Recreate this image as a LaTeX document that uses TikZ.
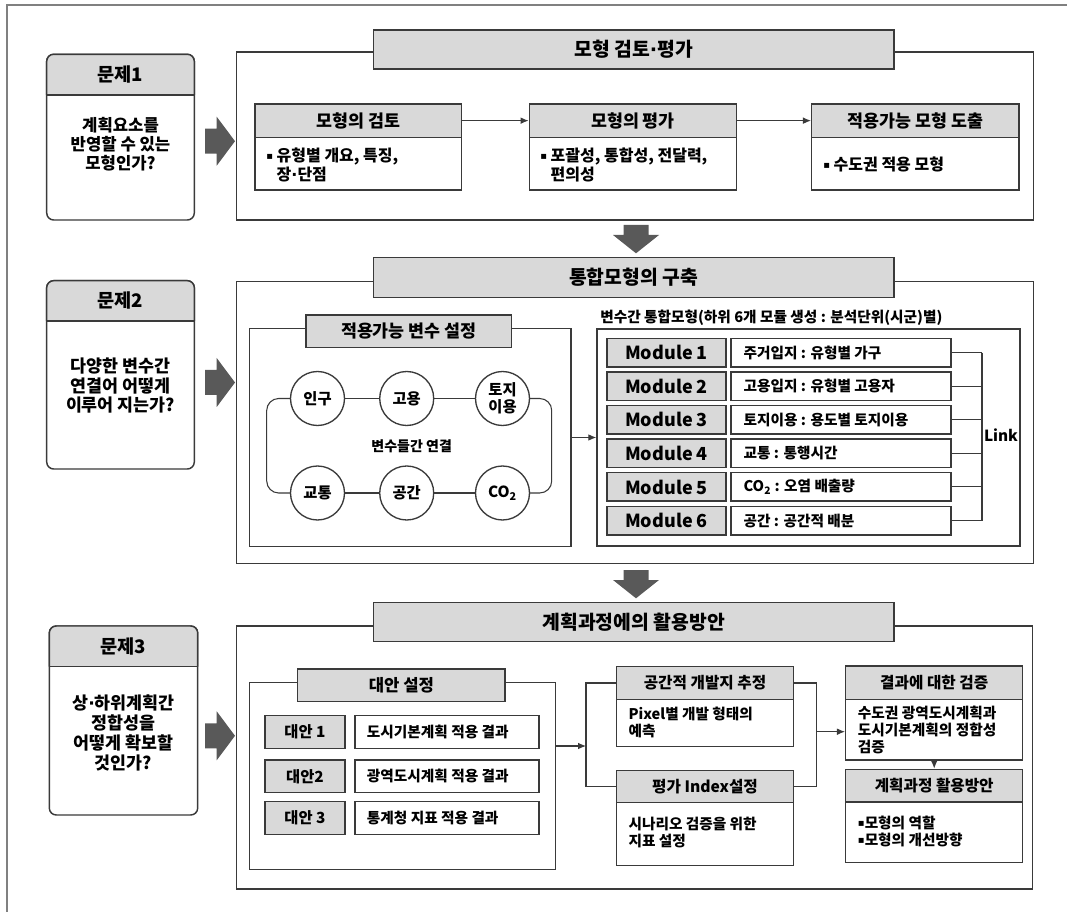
\documentclass[tikz,border=0pt]{standalone}
\usepackage{fontspec}
\setmainfont{Noto Sans CJK KR}
\newfontfamily\dv{DejaVu Sans}
\usetikzlibrary{arrows.meta}
\definecolor{lc}{HTML}{3A3A3A}
\definecolor{hg}{HTML}{D9D9D9}
\definecolor{ag}{HTML}{595959}
\definecolor{og}{HTML}{808080}
\newcommand\bul{{\dv\fontsize{7.5pt}{8pt}\selectfont\raisebox{1.2pt}{▪}}}
\newcommand\md{{\dv ·}}
\newcommand\Bx[7]{\node[#2, minimum width={(#5-#3)*0.75pt}, minimum height={(#6-#4)*0.75pt}] (#1) at ({(#3+#5)/2},{(#4+#6)/2}) {#7};}
\newcommand\RA[1]{\fill[ag] (205,{#1-12.5}) -- (216.7,{#1-12.5}) -- (216.7,{#1-24.5}) -- (235,#1) -- (216.7,{#1+24.5}) -- (216.7,{#1+12.5}) -- (205,{#1+12.5}) -- cycle;}
\newcommand\DA[1]{\fill[ag] (623.5,#1) -- (648.5,#1) -- (648.5,{#1+10}) -- (659,{#1+10}) -- (636,{#1+28.3}) -- (613,{#1+10}) -- (623.5,{#1+10}) -- cycle;}
\begin{document}
\begin{tikzpicture}[x=0.75pt,y=-0.75pt,
  ln/.style={draw=lc, line width=1.1pt},
  cn/.style={draw=lc, line width=0.8pt},
  arr/.style={cn, -{Latex[length=6pt,width=5pt]}},
  bx/.style={ln, inner sep=0pt, fill=white},
  hd/.style={bx, fill=hg},
  ttl/.style={hd, font=\bfseries\fontsize{14.5pt}{17pt}\selectfont},
  hda/.style={hd, font=\bfseries\fontsize{13pt}{15pt}\selectfont},
  hdb/.style={hd, font=\bfseries\fontsize{11.75pt}{14pt}\selectfont},
  mod/.style={hd, font=\bfseries\fontsize{13.5pt}{16pt}\selectfont},
  alt/.style={hd, font=\bfseries\fontsize{11.5pt}{14pt}\selectfont},
  pbh/.style={inner sep=0pt, font=\bfseries\fontsize{14pt}{16pt}\selectfont},
  pbt/.style={inner sep=0pt, align=center, font=\bfseries\fontsize{13pt}{14.6pt}\selectfont},
  bta/.style={anchor=west, align=left, inner sep=0pt, font=\bfseries\fontsize{12pt}{14.25pt}\selectfont},
  btb/.style={anchor=west, align=left, inner sep=0pt, font=\bfseries\fontsize{11pt}{12.75pt}\selectfont},
  circ/.style={circle, draw=lc, line width=1pt, fill=white, minimum size=40.5pt, inner sep=0pt, align=center, font=\bfseries\fontsize{11.5pt}{13pt}\selectfont},
]
\useasboundingbox (0,0) rectangle (1067,912);
% outer frame
\draw[og, line width=0.8pt] (7,912) -- (7,5) -- (1067,5);

% ---------- problem boxes ----------
\Bx{P1}{bx, rounded corners=5.25pt}{46.7}{54.3}{194.3}{220}{}
\path[fill=hg, draw=lc, line width=1.1pt, rounded corners=5.25pt] (46.7,95) -- (46.7,54.3) -- (194.3,54.3) -- (194.3,95);
\draw[ln] (46.7,95) -- (194.3,95);
\node[pbh] (P1h) at (120.5,75) {문제1};
\node[pbt, font=\bfseries\fontsize{12.5pt}{14.25pt}\selectfont] (P1t) at (120.5,144.5) {계획요소를\\반영할 수 있는\\모형인가?};

\Bx{P2}{bx, rounded corners=5.25pt}{46.7}{280.7}{194.3}{469}{}
\path[fill=hg, draw=lc, line width=1.1pt, rounded corners=5.25pt] (46.7,321) -- (46.7,280.7) -- (194.3,280.7) -- (194.3,321);
\draw[ln] (46.7,321) -- (194.3,321);
\node[pbh] (P2h) at (120.5,301) {문제2};
\node[pbt] (P2t) at (120.5,385.7) {다양한 변수간\\연결어 어떻게\\이루어 지는가?};

\Bx{P3}{bx, rounded corners=5.25pt}{49.3}{626}{197.7}{815}{}
\path[fill=hg, draw=lc, line width=1.1pt, rounded corners=5.25pt] (49.3,666.7) -- (49.3,626) -- (197.7,626) -- (197.7,666.7);
\draw[ln] (49.3,666.7) -- (197.7,666.7);
\node[pbh] (P3h) at (123.5,646.5) {문제3};
\node[pbt, font=\bfseries\fontsize{13pt}{15pt}\selectfont] (P3t) at (123.5,733) {상\md 하위계획간\\정합성을\\어떻게 확보할\\것인가?};

% big arrows
\RA{141.2}
\RA{382.5}
\RA{735.8}
\DA{225}
\DA{570}

% ---------- section 1 ----------
\Bx{F1}{bx}{236.7}{52}{1033.3}{220}{}
\Bx{T1}{ttl}{373.3}{30}{894}{69}{모형 검토\md 평가}
\Bx{Ah}{hda}{255}{104}{461.7}{137.3}{모형의 검토}
\Bx{Ab}{bx}{255}{137.3}{461.7}{190}{}
\node[bta] (At) at (266,164.5) {\bul{} 유형별 개요, 특징,\\\hphantom{\bul{} }장\md 단점};
\Bx{Bh}{hda}{529.3}{104}{736.7}{137.3}{모형의 평가}
\Bx{Bb}{bx}{529.3}{137.3}{736.7}{190}{}
\node[bta] (Bt) at (540,164.5) {\bul{} 포괄성, 통합성, 전달력,\\\hphantom{\bul{} }편의성};
\Bx{Ch}{hda}{811.7}{104}{1019}{137.3}{적용가능 모형 도출}
\Bx{Cb}{bx}{811.7}{137.3}{1019}{190}{}
\node[bta] (Ct) at (823,164.5) {\bul{} 수도권 적용 모형};
\draw[arr] (Ah.east) -- (Bh.west);
\draw[arr] (Bh.east) -- (Ch.west);

% ---------- section 2 ----------
\Bx{F2}{bx}{236.7}{281.7}{1033.3}{563.3}{}
\Bx{T2}{ttl}{373.3}{257.3}{894}{297.7}{통합모형의 구축}
\Bx{L}{bx}{249.3}{328.3}{571}{546.7}{}
\Bx{LT}{hda}{306}{315}{511.7}{347.3}{적용가능 변수 설정}
\node[circ] (c1) at (317.5,398.5) {인구};
\node[circ] (c2) at (406.7,398.5) {고용};
\node[circ] (c3) at (502.5,398.5) {토지\\이용};
\node[circ] (c4) at (317.5,493) {교통};
\node[circ] (c5) at (406.7,493) {공간};
\node[circ] (c6) at (502.5,493) {CO\textsubscript{2}};
\draw[cn] (c1) -- (c2);
\draw[cn] (c2) -- (c3);
\draw[cn] (c4) -- (c5);
\draw[cn] (c5) -- (c6);
\draw[cn, rounded corners=9pt] (c1.west) -- (266.7,398.5) -- (266.7,493) -- (c4.west);
\draw[cn, rounded corners=9pt] (c3.east) -- (551.7,398.5) -- (551.7,493) -- (c6.east);
\node[inner sep=0pt, font=\bfseries\fontsize{10.5pt}{12pt}\selectfont] (lk) at (411.7,446.5) {변수들간 연결};

\node[anchor=west, inner sep=0pt, font=\bfseries\fontsize{11pt}{13pt}\selectfont] (RL) at (600,318) {변수간 통합모형(하위 6개 모듈 생성 : 분석단위(시군)별)};
\Bx{RF}{bx}{597}{329}{1020}{546}{}
\foreach \i/\mm/\dd in {1/Module 1/{주거입지 : 유형별 가구},2/Module 2/{고용입지 : 유형별 고용자},3/Module 3/{토지이용 : 용도별 토지이용},4/Module 4/{교통 : 통행시간},5/Module 5/{CO\textsubscript{2} : 오염 배출량},6/Module 6/{공간 : 공간적 배분}} {
  \pgfmathsetmacro\yt{338.3+(\i-1)*33.6}
  \pgfmathsetmacro\yb{\yt+28.5}
  \pgfmathsetmacro\yc{\yt+14.25}
  \Bx{M\i}{mod}{607}{\yt}{726}{\yb}{\mm}
  \Bx{D\i}{bx}{731}{\yt}{951}{\yb}{}
  \node[btb] (DT\i) at (743.3,\yc) {\dd};
  \coordinate (K\i) at (982,\yc);
  \draw[cn] (D\i.east) -- (K\i);
}
\draw[cn] (K1) -- (K6);
\node[inner sep=0pt, font=\bfseries\fontsize{11.5pt}{13pt}\selectfont] (LK) at (1001,435) {Link};
\draw[arr] (L.east) -- (RF.west);

% ---------- section 3 ----------
\Bx{F3}{bx}{236.7}{626}{1032.7}{889}{}
\Bx{T3}{ttl}{373.3}{602.3}{894}{641.7}{계획과정에의 활용방안}
\Bx{Dp}{bx}{249.3}{682.3}{555.7}{869.3}{}
\Bx{DpT}{hd, font=\bfseries\fontsize{12.5pt}{15pt}\selectfont}{297.7}{669}{505}{701.7}{대안 설정}
\Bx{A1}{alt}{265}{715.7}{345}{748.3}{대안 1}
\Bx{W1}{bx}{355}{715.7}{539}{748.3}{}
\node[btb] (WT1) at (366.7,732) {도시기본계획 적용 결과};
\Bx{A2}{alt}{265}{760}{345}{792.7}{대안2}
\Bx{W2}{bx}{355}{760}{539}{792.7}{}
\node[btb] (WT2) at (366.7,776.3) {광역도시계획 적용 결과};
\Bx{A3}{alt}{265}{801.7}{345}{834.3}{대안 3}
\Bx{W3}{bx}{355}{801.7}{539}{834.3}{}
\node[btb] (WT3) at (366.7,818) {통계청 지표 적용 결과};

\Bx{Sh}{hdb}{616.7}{666.7}{793.3}{699.3}{공간적 개발지 추정}
\Bx{Sb}{bx}{616.7}{699.3}{793.3}{746.7}{}
\node[btb] (St) at (628.3,722.5) {Pixel별 개발 형태의\\예측};
\Bx{Eh}{hdb}{616.7}{770.7}{793.3}{802.7}{평가 Index설정}
\Bx{Eb}{bx}{616.7}{802.7}{793.3}{865.7}{}
\node[btb] (Et) at (628.3,832.5) {시나리오 검증을 위한\\지표 설정};

\Bx{Rh}{hdb}{845.7}{666}{1022.7}{699.3}{결과에 대한 검증}
\Bx{Rb}{bx}{845.7}{699.3}{1022.7}{760}{}
\node[btb] (Rt) at (857.7,729.7) {수도권 광역도시계획과\\도시기본계획의 정합성\\검증};
\Bx{Qh}{hdb}{845.7}{769.3}{1022.7}{802}{계획과정 활용방안}
\Bx{Qb}{bx}{845.7}{802}{1022.7}{862.7}{}
\node[btb] (Qt) at (857.7,831.5) {\bul{}모형의 역할\\\bul{}모형의 개선방향};

\coordinate (b1) at (586,746);
\draw[arr] (Dp.east |- b1) -- (b1);
\draw[cn] (Sh.west) -| (b1) |- (Eh.west);
\coordinate (b2) at (816.7,731.7);
\draw[cn] (Sh.east) -| (b2) |- (Eh.east);
\draw[arr] (b2) -- (Rb.west |- b2);
\draw[arr] (Rb.south) -- (Qh.north);
\end{tikzpicture}
\end{document}
